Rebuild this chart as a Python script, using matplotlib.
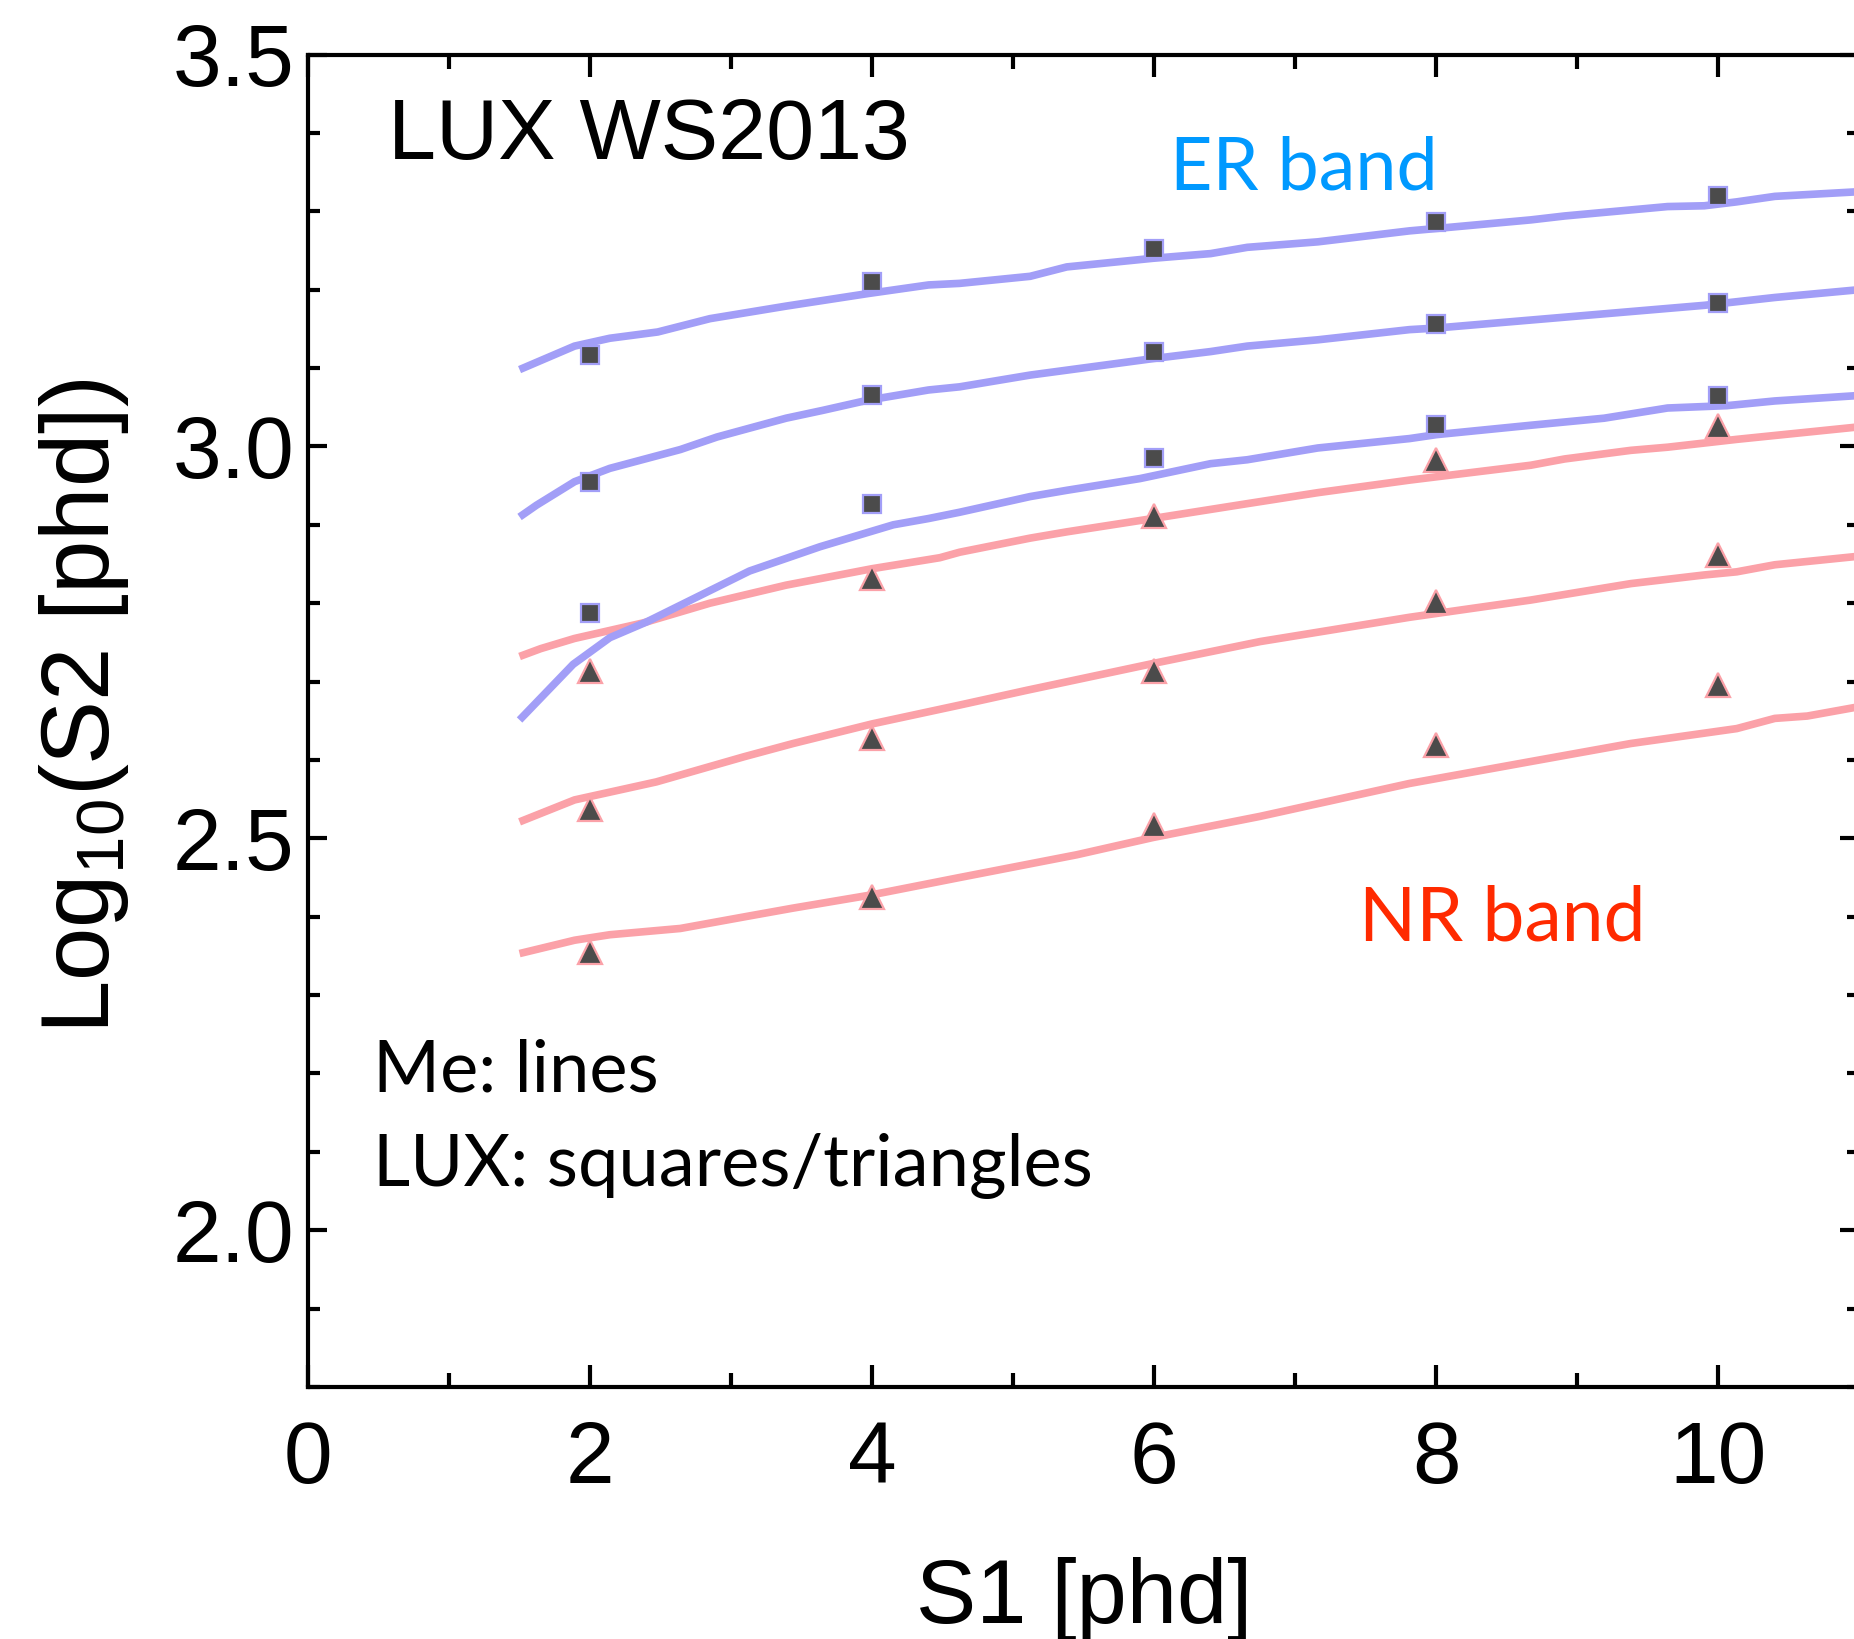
import matplotlib.pyplot as plt
from matplotlib.ticker import MultipleLocator

plt.rcParams["font.family"] = ["Liberation Sans", "DejaVu Sans"]
plt.rcParams["mathtext.fontset"] = "custom"
plt.rcParams["mathtext.rm"] = "Liberation Sans"
plt.rcParams["mathtext.it"] = "Liberation Sans:italic"

# ---- model curves ("Me: lines") ----
er_top_x = [1.50, 1.89, 2.14, 2.48, 2.85, 3.39, 3.97, 4.40, 4.62, 5.12, 5.38, 5.99, 6.40, 6.66,
            7.16, 7.81, 8.00, 8.67, 8.91, 9.64, 9.90, 10.13, 10.40, 11.0]
er_top_y = [3.098, 3.128, 3.138, 3.146, 3.163, 3.179, 3.195, 3.206, 3.208, 3.217, 3.229, 3.240,
            3.246, 3.254, 3.261, 3.275, 3.278, 3.289, 3.294, 3.306, 3.307, 3.312, 3.319, 3.325]

er_mid_x = [1.50, 1.62, 1.89, 2.14, 2.64, 2.90, 3.39, 3.65, 3.97, 4.40, 4.62, 5.12, 5.99, 6.40,
            6.66, 7.16, 7.81, 8.00, 9.90, 10.40, 11.0]
er_mid_y = [2.910, 2.925, 2.955, 2.972, 2.996, 3.012, 3.036, 3.046, 3.059, 3.072, 3.076, 3.091,
            3.112, 3.121, 3.128, 3.136, 3.149, 3.151, 3.180, 3.190, 3.200]

er_bot_x = [1.50, 1.88, 2.14, 2.40, 3.13, 3.63, 4.15, 4.40, 4.62, 5.12, 5.38, 5.90, 6.40, 6.66,
            7.16, 7.81, 8.00, 8.67, 9.19, 9.64, 10.06, 10.40, 11.0]
er_bot_y = [2.651, 2.722, 2.756, 2.776, 2.841, 2.872, 2.900, 2.908, 2.916, 2.936, 2.944, 2.959,
            2.978, 2.983, 2.998, 3.010, 3.015, 3.027, 3.036, 3.049, 3.052, 3.058, 3.065]

nr_top_x = [1.50, 1.65, 1.89, 2.38, 2.85, 3.39, 4.00, 4.48, 4.62, 5.12, 5.38, 5.99, 6.66, 7.16,
            7.81, 8.67, 8.91, 9.38, 9.64, 10.13, 11.0]
nr_top_y = [2.732, 2.742, 2.755, 2.775, 2.800, 2.823, 2.844, 2.858, 2.865, 2.883, 2.891, 2.908,
            2.927, 2.941, 2.957, 2.976, 2.984, 2.995, 2.999, 3.009, 3.025]

nr_mid_x = [1.50, 1.89, 2.47, 3.09, 3.44, 4.00, 4.62, 5.10, 5.99, 6.75, 7.81, 8.67, 9.38, 9.90,
            10.13, 10.40, 11.0]
nr_mid_y = [2.521, 2.549, 2.572, 2.604, 2.621, 2.646, 2.670, 2.689, 2.723, 2.751, 2.782, 2.804,
            2.825, 2.836, 2.840, 2.849, 2.860]

nr_bot_x = [1.50, 1.89, 2.14, 2.64, 3.13, 3.44, 4.00, 4.62, 5.45, 5.99, 6.75, 7.81, 8.67, 9.38,
            10.13, 10.40, 10.63, 11.0]
nr_bot_y = [2.353, 2.370, 2.377, 2.385, 2.401, 2.411, 2.428, 2.450, 2.479, 2.501, 2.528, 2.570,
            2.598, 2.621, 2.640, 2.653, 2.656, 2.668]

# ---- LUX WS2013 points (squares = ER, triangles = NR) ----
lux_s1 = [2, 4, 6, 8, 10]
lux_er = [
    [3.117, 3.210, 3.252, 3.286, 3.319],
    [2.954, 3.066, 3.121, 3.156, 3.183],
    [2.787, 2.926, 2.985, 3.027, 3.064],
]
lux_nr = [
    [2.714, 2.832, 2.911, 2.983, 3.026],
    [2.537, 2.628, 2.714, 2.801, 2.861],
    [2.355, 2.425, 2.517, 2.619, 2.696],
]

x_ticks = [0, 2, 4, 6, 8, 10]
x_labels = ["0", "2", "4", "6", "8", "10"]
y_ticks = [2.0, 2.5, 3.0, 3.5]
y_labels = ["2.0", "2.5", "3.0", "3.5"]

ER_LINE = "#a29ef7"
NR_LINE = "#fba1a8"
DARK = "#4b4b4b"

fig = plt.figure(figsize=(18.54, 16.39), dpi=100)
ax = fig.add_axes([308 / 1854, 1 - 1387 / 1639, 11 * 141.04 / 1854, (1387 - 54.5) / 1639])

er_lines = [(er_top_x, er_top_y), (er_mid_x, er_mid_y), (er_bot_x, er_bot_y)]
nr_lines = [(nr_top_x, nr_top_y), (nr_mid_x, nr_mid_y), (nr_bot_x, nr_bot_y)]
for xs, ys in nr_lines:
    ax.plot(xs, ys, color=NR_LINE, lw=5.5, solid_capstyle="butt", zorder=2)
for xs, ys in er_lines:
    ax.plot(xs, ys, color=ER_LINE, lw=5.5, solid_capstyle="butt", zorder=2)

for ys in lux_er:
    ax.plot(lux_s1, ys, "s", ms=13, mfc=DARK, mec=ER_LINE, mew=1.6, zorder=3)
for ys in lux_nr:
    ax.plot(lux_s1, ys, "^", ms=17.5, mfc=DARK, mec=NR_LINE, mew=1.6, zorder=3)

ax.set_xlim(0, 11)
ax.set_ylim(1.8, 3.5)

ax.set_xticks(x_ticks, x_labels)
ax.set_yticks(y_ticks, y_labels)
ax.xaxis.set_minor_locator(MultipleLocator(1))
ax.yaxis.set_minor_locator(MultipleLocator(0.1))
ax.tick_params(axis="both", which="both", direction="in", top=True, right=True, width=3)
ax.tick_params(axis="x", which="major", length=16, pad=24, labelsize=63)
ax.tick_params(axis="x", which="minor", length=10)
ax.tick_params(axis="y", which="major", length=14, pad=10, labelsize=63)
ax.tick_params(axis="y", which="minor", length=8.5)
for sp in ax.spines.values():
    sp.set_linewidth(3)

ax.set_xlabel("S1 [phd]", fontsize=65, labelpad=40)
ax.set_ylabel(r"Log$_{10}$(S2 [phd])", fontsize=69, labelpad=30)
ax.yaxis.label.set_y(0.511)

ax.text(0.565, 3.367, "LUX WS2013", fontsize=62, ha="left", va="baseline")

gill = ["Lato", "DejaVu Sans"]
ax.text(6.11, 3.328, "ER band", fontsize=53, family=gill, color="#0099ff",
        ha="left", va="baseline")
ax.text(7.45, 2.3695, "NR band", fontsize=54, family=gill, color="#ff2a00",
        ha="left", va="baseline")
ax.text(0.46, 2.177, "Me: lines", fontsize=52, family=gill, ha="left", va="baseline")
ax.text(0.46, 2.057, "LUX: squares/triangles", fontsize=52, family=gill,
        ha="left", va="baseline")

fig.savefig("out.png", dpi=100)
